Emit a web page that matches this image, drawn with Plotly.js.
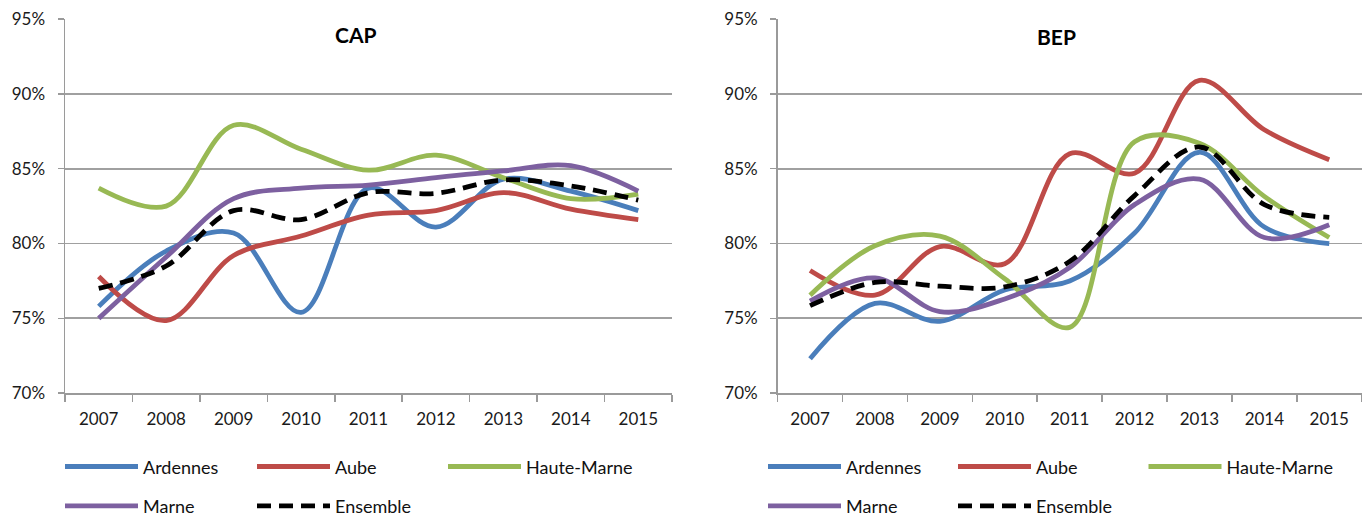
<!DOCTYPE html>
<html><head><meta charset="utf-8">
<script src="https://cdn.plot.ly/plotly-3.0.1.min.js"></script>
<style>html,body{margin:0;padding:0;background:#fff}#chart{width:1363px;height:525px}</style>
</head><body><div id="chart"></div>
<script>
const years = ['2007','2008','2009','2010','2011','2012','2013','2014','2015'];
const seriesNames = ['Ardennes','Aube','Haute-Marne','Marne','Ensemble'];
// CAP (%)
const capArdennes   = [75.8, 79.5, 80.7, 75.4, 83.7, 81.1, 84.3, 83.5, 82.2];
const capAube       = [77.8, 74.85, 79.2, 80.5, 81.9, 82.2, 83.4, 82.3, 81.6];
const capHauteMarne = [83.7, 82.5, 87.9, 86.3, 84.9, 85.9, 84.4, 83.0, 83.3];
const capMarne      = [75.0, 79.1, 83.0, 83.7, 83.9, 84.4, 84.85, 85.2, 83.5];
const capEnsemble   = [77.0, 78.5, 82.2, 81.6, 83.4, 83.35, 84.25, 83.85, 82.9];
// BEP (%)
const bepArdennes   = [72.3, 76.0, 74.8, 76.9, 77.5, 80.7, 86.1, 81.1, 80.0];
const bepAube       = [78.2, 76.55, 79.8, 78.65, 86.0, 84.7, 90.9, 87.6, 85.6];
const bepHauteMarne = [76.55, 79.85, 80.5, 77.65, 74.4, 86.8, 86.7, 83.15, 80.4];
const bepMarne      = [76.15, 77.7, 75.45, 76.3, 78.4, 82.6, 84.3, 80.4, 81.25];
const bepEnsemble   = [75.85, 77.4, 77.15, 77.1, 78.8, 83.2, 86.45, 82.6, 81.75];

const colors = ['#4A7EBB', '#BE4B48', '#98B954', '#7D60A0', '#000000'];
const FONT = 'Lato, "DejaVu Sans", sans-serif';

const capData = [capArdennes, capAube, capHauteMarne, capMarne, capEnsemble];
const bepData = [bepArdennes, bepAube, bepHauteMarne, bepMarne, bepEnsemble];
// legend grid: column and row of each series
const legendCol = [0, 1, 2, 0, 1];
const legendRowIdx = [0, 0, 0, 1, 1];

const traces = [];
const legends = {};
function legId(n) { return n === 1 ? 'legend' : 'legend' + n; }
function leg(x, y) {
  return {x: x, y: y, xref: 'paper', yref: 'paper', xanchor: 'left', yanchor: 'middle',
    orientation: 'h', itemwidth: 73, bgcolor: 'rgba(0,0,0,0)',
    font: {family: FONT, size: 18, color: '#111'}};
}
let legCount = 0;
function addSet(data, xa, ya, colX, rowY) {
  data.forEach((vals, i) => {
    legCount += 1;
    const id = legId(legCount);
    legends[id] = leg((colX[legendCol[i]] - 8) / 1363, 1 - rowY[legendRowIdx[i]] / 525);
    traces.push({
      type: 'scatter', mode: 'lines', x: years, y: vals, name: seriesNames[i],
      xaxis: xa, yaxis: ya, legend: id,
      line: {color: colors[i], width: 4.8, shape: 'spline', smoothing: 1,
             dash: i === 4 ? '14px,8px' : 'solid'},
      hoverinfo: 'skip'
    });
  });
}
addSet(capData, 'x', 'y', [68, 260, 451], [474, 514]);
addSet(bepData, 'x2', 'y2', [771, 961, 1151.5], [474, 514]);

const xBase = {
  type: 'category', range: [-0.5, 8.5], showgrid: false, showline: true,
  linecolor: '#9a9a9a', linewidth: 1.5, ticks: 'outside', tickson: 'boundaries',
  ticklen: 7, tickcolor: '#9a9a9a', tickwidth: 1.5, ticklabelstandoff: 10,
  tickfont: {family: FONT, size: 17, color: '#1a1a1a'}, fixedrange: true
};
const yBase = {
  range: [70, 95], dtick: 5, tick0: 70, ticksuffix: '%', showgrid: true,
  gridcolor: '#a0a0a0', gridwidth: 1.8, showline: true, linecolor: '#9a9a9a', linewidth: 1.5,
  ticks: 'outside', ticklen: 6, tickcolor: '#9a9a9a', tickwidth: 1.5, zeroline: false,
  tickfont: {family: FONT, size: 17, color: '#1a1a1a'}, ticklabelstandoff: 9, fixedrange: true
};
const yDom = [1 - 399.3/525, 1 - 19.3/525];

const layout = Object.assign({
  width: 1363, height: 525, margin: {l: 0, r: 0, t: 0, b: 0},
  paper_bgcolor: '#fff', plot_bgcolor: '#fff', showlegend: true,
  xaxis: Object.assign({}, xBase, {domain: [65/1363, 672/1363], anchor: 'y'}),
  yaxis: Object.assign({}, yBase, {domain: yDom, anchor: 'x'}),
  xaxis2: Object.assign({}, xBase, {domain: [777.6/1363, 1361.7/1363], anchor: 'y2'}),
  yaxis2: Object.assign({}, yBase, {domain: yDom, anchor: 'x2'}),
  annotations: [
    {text: '<b>CAP</b>', x: 355/1363, y: 1 - 35/525, xref: 'paper', yref: 'paper',
     xanchor: 'center', yanchor: 'middle',
     showarrow: false, font: {family: FONT, size: 21, color: '#000', weight: 900}},
    {text: '<b>BEP</b>', x: 1056/1363, y: 1 - 37/525, xref: 'paper', yref: 'paper',
     xanchor: 'center', yanchor: 'middle',
     showarrow: false, font: {family: FONT, size: 21, color: '#000', weight: 900}}
  ]
}, legends);
Plotly.newPlot('chart', traces, layout, {staticPlot: true, displayModeBar: false});
</script></body></html>
